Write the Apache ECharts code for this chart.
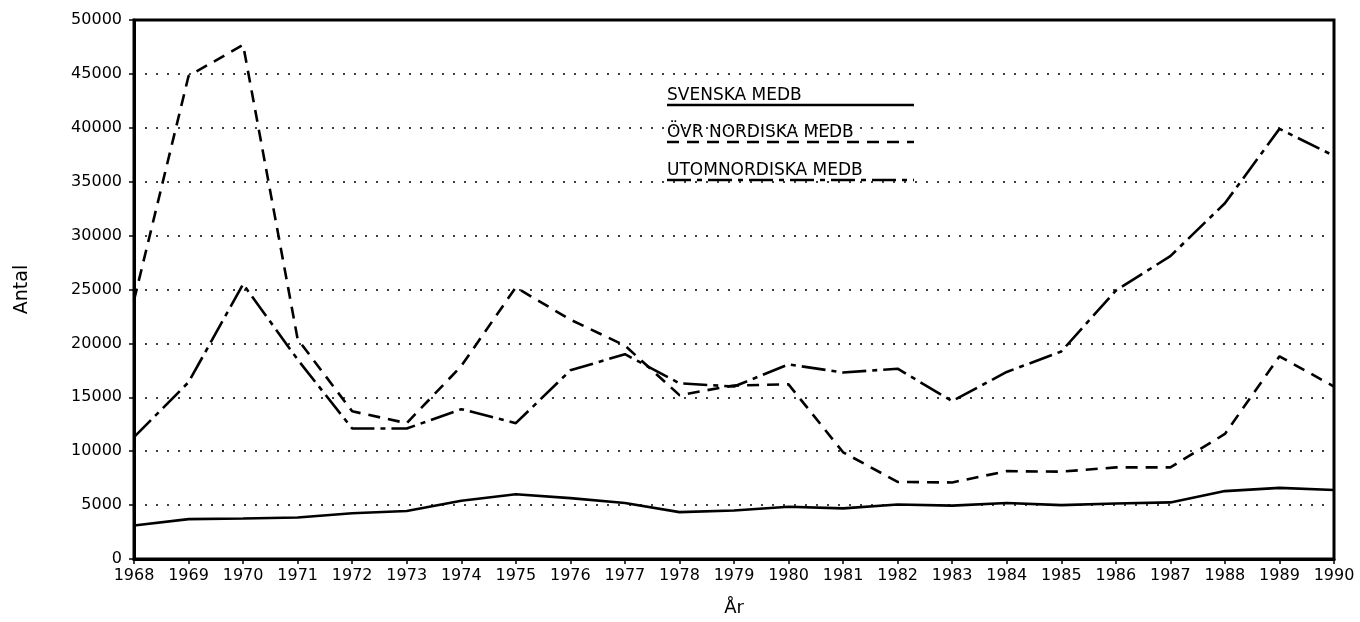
<!DOCTYPE html>
<html>
<head>
<meta charset="utf-8">
<script src="https://cdn.jsdelivr.net/npm/echarts@6/dist/echarts.min.js"></script>
<style>
	html, body { margin: 0; padding: 0; background: #fff; }
	#chartId { width: 1360px; height: 622px; }
</style>
</head>
<body>
<div id="chartId"></div>
<script>
var years = ["1968", "1969", "1970", "1971", "1972", "1973", "1974", "1975", "1976", "1977", "1978", "1979",
	"1980", "1981", "1982", "1983", "1984", "1985", "1986", "1987", "1988", "1989", "1990"];
var seriesNames = ["SVENSKA MEDB", "ÖVR NORDISKA MEDB", "UTOMNORDISKA MEDB"];
//svenska medborgare
var svenska = [3100, 3700, 3750, 3850, 4250, 4450, 5400, 6000, 5650, 5200, 4350, 4500,
	4850, 4700, 5050, 4950, 5200, 5000, 5150, 5250, 6300, 6600, 6400];
//övriga nordiska
var ovrNordiska = [24000, 44800, 47700, 20400, 13700, 12600, 17900, 25200, 22200, 19800, 15200, 16100,
	16200, 9900, 7150, 7100, 8150, 8100, 8500, 8500, 11600, 18800, 16000];
//utomnordiska
var utomNordiska = [11300, 16400, 25500, 18500, 12100, 12100, 13900, 12600, 17500, 19000, 16300, 16000,
	18050, 17300, 17650, 14650, 17350, 19250, 24900, 28100, 33000, 39900, 37400];

var dashType = [12, 8];
var dashDotType = [24, 6, 5, 6];

var myChart = echarts.init(document.getElementById("chartId"));

function lineSeries(name, data, type) {
	return {
		name: name,
		type: "line",
		data: data,
		symbol: "none",
		animation: false,
		lineStyle: {
			color: "#000",
			width: 2.6,
			type: type
		}
	};
}

// legend: text with the line style drawn under it
var legendGraphics = [];
var legendTypes = ["solid", dashType, dashDotType];
var legendTop = [87, 124, 162];
for(var i = 0; i < seriesNames.length; i++) {
	legendGraphics.push({
		type: "text",
		left: 667,
		top: legendTop[i],
		style: {
			text: seriesNames[i],
			fill: "#000",
			font: "17px 'DejaVu Sans'"
		}
	});
	legendGraphics.push({
		type: "line",
		shape: { x1: 667, y1: legendTop[i] + 18, x2: 914, y2: legendTop[i] + 18 },
		style: { stroke: "#000", lineWidth: 2.6, lineDash: legendTypes[i] === "solid" ? null : legendTypes[i] }
	});
}

var option = {
	animation: false,
	backgroundColor: "#fff",
	grid: {
		left: 134,
		right: 26,
		top: 20,
		bottom: 61,
		show: true,
		borderColor: "#000",
		borderWidth: 3
	},
	xAxis: {
		type: "category",
		data: years,
		boundaryGap: false,
		name: "År",
		nameLocation: "middle",
		nameGap: 40,
		nameTextStyle: { color: "#000", fontSize: 18, fontFamily: "DejaVu Sans" },
		axisLine: { show: true, lineStyle: { color: "#000", width: 3 } },
		axisTick: { show: true, length: 5, lineStyle: { color: "#000", width: 1.5 } },
		axisLabel: {
			interval: 0,
			color: "#000",
			fontSize: 16,
			fontFamily: "DejaVu Sans",
			margin: 9
		},
		splitLine: { show: false }
	},
	yAxis: {
		type: "value",
		min: 0,
		max: 50000,
		interval: 5000,
		name: "Antal",
		nameLocation: "middle",
		nameGap: 102,
		nameTextStyle: { color: "#000", fontSize: 19, fontFamily: "DejaVu Sans" },
		axisLine: { show: true, lineStyle: { color: "#000", width: 3 } },
		axisTick: { show: true, length: 5, lineStyle: { color: "#000", width: 1.5 } },
		axisLabel: {
			color: "#000",
			fontSize: 16,
			fontFamily: "DejaVu Sans",
			margin: 12,
			formatter: function(v) { return String(v); }
		},
		splitLine: {
			show: true,
			lineStyle: { color: "#000", width: 1.6, type: [2, 9] }
		}
	},
	graphic: legendGraphics,
	series: [
		lineSeries(seriesNames[0], svenska, "solid"),
		lineSeries(seriesNames[1], ovrNordiska, dashType),
		lineSeries(seriesNames[2], utomNordiska, dashDotType)
	]
};
myChart.setOption(option);
</script>
</body>
</html>
